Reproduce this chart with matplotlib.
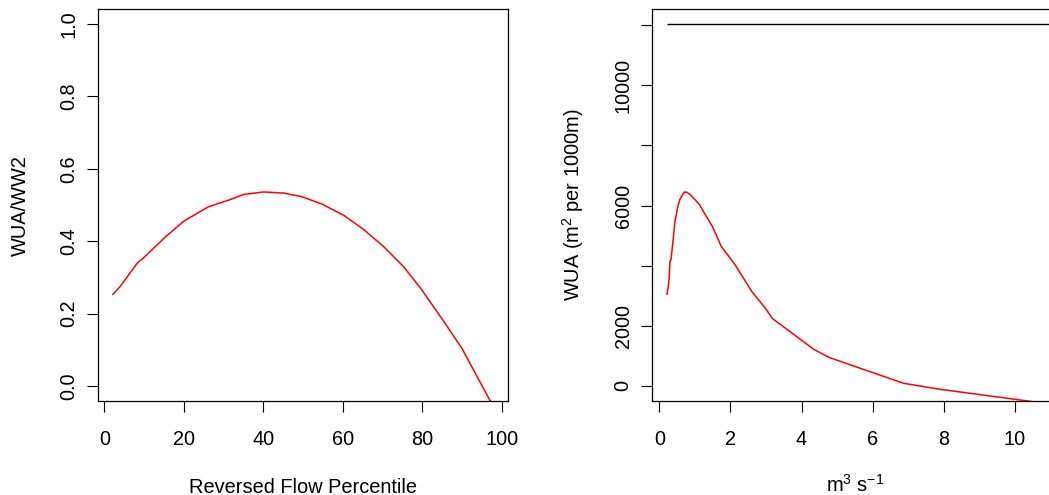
import matplotlib
matplotlib.use("Agg")
import matplotlib.pyplot as plt

plt.rcParams['font.family'] = ['Liberation Sans', 'DejaVu Sans']
plt.rcParams['mathtext.fontset'] = 'custom'
plt.rcParams['mathtext.rm'] = 'Liberation Sans'
plt.rcParams['mathtext.it'] = 'Liberation Sans:italic'

# left panel: WUA relative to WW2 against reversed flow percentile
pct = [2.16, 3.95, 8.4, 9.8, 15.4, 20.1, 26.2, 31.7, 35.0, 40.0, 45.1,
       49.7, 54.7, 60.2, 65.2, 70.3, 75.3, 79.6, 84.9, 90.0, 97.0, 97.8]
ratio = [0.253, 0.274, 0.341, 0.353, 0.412, 0.456, 0.495, 0.515, 0.529, 0.536, 0.533,
         0.523, 0.503, 0.472, 0.433, 0.385, 0.330, 0.270, 0.187, 0.104, -0.039, -0.05]

# right panel: WUA against flow
flow = [0.217, 0.254, 0.28, 0.30, 0.33, 0.395, 0.44, 0.49, 0.535, 0.58,
        0.63, 0.70, 0.77, 0.865, 1.0, 1.13, 1.29, 1.49, 1.62, 1.74,
        2.13, 2.60, 2.98, 3.18, 4.34, 4.76, 6.87, 7.9, 10.16, 11.0]
wua = [3056, 3311, 3589, 4144, 4200, 4922, 5478, 5756, 6033, 6200,
       6311, 6444, 6444, 6367, 6200, 6033, 5700, 5311, 4978, 4644,
       4033, 3144, 2589, 2244, 1222, 955, 89, -111, -467, -600]
ww2 = 12040

left_ticks = [0, 20, 40, 60, 80, 100]
left_yticks = [0.0, 0.2, 0.4, 0.6, 0.8, 1.0]
right_xticks = [0, 2, 4, 6, 8, 10]
right_yticks = [0, 2000, 4000, 6000, 8000, 10000, 12000]
right_ylabels = ['0', '2000', '', '6000', '', '10000', '']

fig = plt.figure(figsize=(10.49, 4.95), dpi=100)
ax1 = fig.add_axes([0.0931, 0.1899, 0.3912, 0.7919])
ax2 = fig.add_axes([0.6215, 0.1899, 0.3871, 0.7919])

ax1.plot(pct, ratio, color='red', lw=1.1)
ax1.set_xlim(-1.66, 101.6)
ax1.set_ylim(-0.0414, 1.0414)
ax1.set_xticks(left_ticks)
ax1.set_xticklabels([str(t) for t in left_ticks])
ax1.set_yticks(left_yticks)
ax1.set_yticklabels(['%.1f' % t for t in left_yticks], rotation=90, va='center')
ax1.set_xlabel('Reversed Flow Percentile', fontsize=14.4)
ax1.set_ylabel('WUA/WW2', fontsize=14.4)

ax2.plot(flow, wua, color='red', lw=1.1)
ax2.hlines(ww2, min(flow), max(flow), color='black', lw=1.0)
ax2.set_xlim(-0.206, 11.21)
ax2.set_ylim(-499, 12533)
ax2.set_xticks(right_xticks)
ax2.set_xticklabels([str(t) for t in right_xticks])
ax2.set_yticks(right_yticks)
ax2.set_yticklabels(right_ylabels, rotation=90, va='center')
ax2.set_xlabel(r'm$^{3}$ s$^{-1}$', fontsize=14.4)
ax2.set_ylabel(r'WUA (m$^{2}$ per 1000m)', fontsize=14.4)

for ax in (ax1, ax2):
    ax.tick_params(direction='out', length=8, width=0.8, labelsize=14.3, pad=13)
    ax.tick_params(axis='y', pad=6)
    for s in ax.spines.values():
        s.set_linewidth(0.9)
    ax.xaxis.label.set(va='center', ha='center')
    ax.yaxis.label.set(va='center', ha='center')

ax1.xaxis.set_label_coords(0.5, -0.22)
ax1.yaxis.set_label_coords(-0.189, 0.5)
ax2.xaxis.set_label_coords(0.5, -0.214)
ax2.yaxis.set_label_coords(-0.1946, 0.5)

fig.savefig('out.png', dpi=100)
